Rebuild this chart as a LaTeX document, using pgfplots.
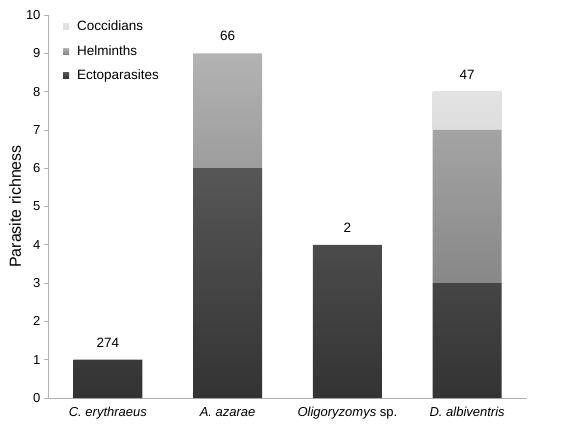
\documentclass[border=0pt]{standalone}
\usepackage{fontspec}
\setmainfont{Liberation Sans}
\usepackage{pgfplots}
\pgfplotsset{compat=1.18}
\begin{document}
\begin{tikzpicture}
\begin{axis}[
    scale only axis,
    width=479pt, height=383pt,
    ybar stacked, bar width=69pt,
    xmin=-0.5, xmax=3.5, ymin=0, ymax=10,
    xtick={0,1,2,3},
    xticklabels={\textit{C. erythraeus}, \textit{A. azarae}, \textit{Oligoryzomys} sp., \textit{D. albiventris}},
    ytick={0,1,...,10},
    axis lines=left,
    axis line style={-, draw=black!30, line width=0.8pt},
    xtick style={draw=none},
    ytick style={draw=black!30, line width=0.8pt},
    tick align=outside, major tick length=4pt,
    /pgf/number format/assume math mode=true,
    yticklabel style={font=\fontsize{13}{15}\selectfont},
    xticklabel style={font=\fontsize{13}{15}\selectfont, yshift=-2pt},
    ylabel={Parasite richness},
    ylabel style={font=\fontsize{16}{18}\selectfont, yshift=-2pt},
    reverse legend,
    legend style={at={(0.025,0.995)}, anchor=north west, draw=none, fill=none,
        font=\fontsize{13.5}{15}\selectfont, row sep=9pt, column sep=6pt,
        cells={anchor=west}},
    legend image code/.code={\fill[#1] (0pt,-3pt) rectangle (6pt,3pt);},
    every axis plot/.append style={draw=none},
]

% Ectoparasites
\addplot[shading=axis, top color=black!66, bottom color=black!80, draw=none]
    coordinates {(0,1) (1,6) (2,4) (3,3)};
\addlegendentry{Ectoparasites}

% Helminths
\addplot[shading=axis, top color=black!30, bottom color=black!47, draw=none]
    coordinates {(0,0) (1,3) (2,0) (3,4)};
\addlegendentry{Helminths}

% Coccidians
\addplot[shading=axis, top color=black!11, bottom color=black!13, draw=none]
    coordinates {(0,0) (1,0) (2,0) (3,1)};
\addlegendentry{Coccidians}

% sample sizes
\node[font=\fontsize{13.5}{15}\selectfont] at (axis cs:0,1.45) {274};
\node[font=\fontsize{13.5}{15}\selectfont] at (axis cs:1,9.45) {66};
\node[font=\fontsize{13.5}{15}\selectfont] at (axis cs:2,4.45) {2};
\node[font=\fontsize{13.5}{15}\selectfont] at (axis cs:3,8.45) {47};
\end{axis}
\pgfresetboundingbox
\path[shift={(current axis.south west)}] (-48pt,-26pt) rectangle (517pt,398pt);
\end{tikzpicture}
\end{document}
